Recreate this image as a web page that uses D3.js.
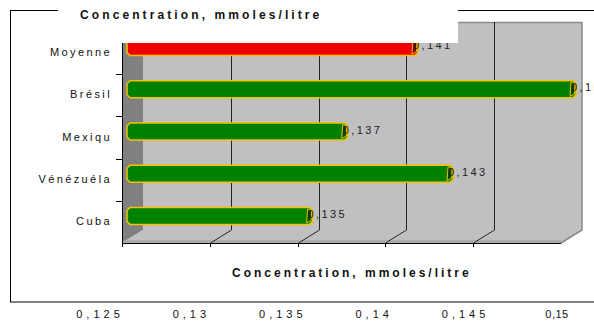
<!DOCTYPE html>
<html>
<head>
<meta charset="utf-8">
<script src="https://cdn.jsdelivr.net/npm/d3@7"></script>
<style>
  body { margin: 0; background: #fff; }
  svg { display: block; font-family: "Liberation Sans", Arial, sans-serif; }
</style>
</head>
<body>
<svg width="594" height="325"></svg>
<script>
let categories = ["Cuba", "Vénézuéla", "Mexiqu", "Brésil", "Moyenne"];
let values = [0.135, 0.143, 0.137, 0.15, 0.141];
let valueLabels = ["0,135", "0,143", "0,137", "0,15", "0,141"];
let xTicks = [0.125, 0.13, 0.135, 0.14, 0.145, 0.15];
let xTickLabels = ["0,125", "0,13", "0,135", "0,14", "0,145", "0,15"];
let title = "Concentration, mmoles/litre";

let svg = d3.select("svg");

// 3d box
let left = 122, bottom = 243, dx = 21, dy = -13, wallTop = 22;

let x = d3.scaleLinear().domain([0.125, 0.15]).range([left, 561]);
let y = d3.scaleBand().domain(categories).range([bottom, 32]);
let xLab = d3.scaleLinear().domain([0.125, 0.15]).range([100, 557]);

// outer frame
svg.append("rect")
  .attr("x", 10.5).attr("y", 10.5)
  .attr("width", 600).attr("height", 291.5)
  .attr("fill", "none").attr("stroke", "#000");

let right = x(0.15);

// back wall
svg.append("rect")
  .attr("x", left + dx).attr("y", wallTop)
  .attr("width", right - left).attr("height", bottom + dy - wallTop)
  .attr("fill", "#c0c0c0");

// left wall
svg.append("polygon")
  .attr("points", [[left, wallTop - dy], [left + dx, wallTop], [left + dx, bottom + dy], [left, bottom]].join(" "))
  .attr("fill", "#808080");

// floor
svg.append("polygon")
  .attr("points", [[left, bottom], [left + dx, bottom + dy], [right + dx, bottom + dy], [right, bottom]].join(" "))
  .attr("fill", "#c0c0c0");

svg.append("line")
  .attr("x1", left).attr("x2", right)
  .attr("y1", bottom - 1.5).attr("y2", bottom - 1.5)
  .attr("stroke", "#a2a2a2").attr("stroke-width", 2);

// wall edges
svg.append("path")
  .attr("d", `M${left + dx},${wallTop + 0.5}H${right + dx}V${bottom + dy}L${right},${bottom}`)
  .attr("fill", "none").attr("stroke", "#8a8a8a").attr("stroke-width", 1.5);

// grid on wall and floor
let inner = xTicks.slice(1, -1);
svg.append("g").selectAll("path")
  .data(inner)
  .enter().append("path")
    .attr("d", d => `M${Math.round(x(d)) + dx + 0.5},${wallTop}V${bottom + dy}L${Math.round(x(d)) + 0.5},${bottom}`)
    .attr("fill", "none")
    .attr("stroke", "#222")
    .attr("stroke-width", 1);

// axes lines
svg.append("line")
  .attr("x1", left + 0.5).attr("x2", left + 0.5)
  .attr("y1", wallTop - dy).attr("y2", bottom)
  .attr("stroke", "#000");
svg.append("line")
  .attr("x1", left).attr("x2", right)
  .attr("y1", bottom + 0.5).attr("y2", bottom + 0.5)
  .attr("stroke", "#000");

svg.append("g").selectAll("line")
  .data(categories)
  .enter().append("line")
    .attr("x1", left - 6).attr("x2", left)
    .attr("y1", d => Math.round(y(d)) + 0.5)
    .attr("y2", d => Math.round(y(d)) + 0.5)
    .attr("stroke", "#000");

svg.append("g").selectAll("line")
  .data(xTicks.slice(0, -1))
  .enter().append("line")
    .attr("x1", d => Math.round(x(d)) + 0.5)
    .attr("x2", d => Math.round(x(d)) + 0.5)
    .attr("y1", bottom).attr("y2", bottom + 4)
    .attr("stroke", "#000");

// bars
let bh = 17;
let barStart = left + 5;
let bars = categories.map((c, i) => {
  let cy = y(c) + y.bandwidth() / 2 - 6;
  return {
    name: c,
    label: valueLabels[i],
    t: cy - bh / 2,
    b: cy + bh / 2,
    cy: cy,
    xe: x(values[i]) + 12,
    fill: c === "Moyenne" ? "#f00000" : "#008000",
    cap: c === "Moyenne" ? "#7a0000" : "#004a00"
  };
});

let barPath = d => {
  let c = 3, x0 = barStart, x1 = d.xe;
  return `M${x0 + c},${d.t}H${x1}L${x1 + c},${d.t + c}V${d.b - c}L${x1},${d.b}H${x0 + c}L${x0},${d.b - c}V${d.t + c}Z`;
};

let bar = svg.append("g").selectAll("g")
  .data(bars)
  .enter().append("g");

bar.append("path")
  .attr("d", barPath)
  .attr("fill", d => d.fill)
  .attr("stroke", "#f2c200")
  .attr("stroke-width", 1.5);

bar.append("path")
  .attr("d", d => {
    let x1 = d.xe;
    return `M${x1 - 2},${d.t + 1.5}L${x1 + 2},${d.t + 3}L${x1 + 1.5},${d.b - 4}L${x1 - 3},${d.b - 1.5}Z`;
  })
  .attr("fill", d => d.cap)
  .attr("stroke", "#f2c200")
  .attr("stroke-width", 1);

bar.append("text")
  .attr("x", d => d.xe - 2)
  .attr("y", d => d.cy + 2)
  .attr("font-size", 11)
  .attr("letter-spacing", "2.4px")
  .attr("fill", "#222")
  .text(d => d.label);

// category labels
svg.append("g").selectAll("text")
  .data(categories)
  .enter().append("text")
    .attr("x", 112)
    .attr("y", d => y(d) + y.bandwidth() / 2 + 3)
    .attr("text-anchor", "end")
    .attr("font-size", 11)
    .attr("letter-spacing", "2.4px")
    .attr("fill", "#111")
    .text(d => d);

// title box on top
svg.append("rect")
  .attr("x", 58).attr("y", 0)
  .attr("width", 400).attr("height", 43)
  .attr("fill", "#fff");

svg.append("text")
  .attr("x", 80).attr("y", 19)
  .attr("font-size", 12).attr("font-weight", "bold")
  .attr("letter-spacing", "3.1px")
  .attr("fill", "#111")
  .text(title);

svg.append("text")
  .attr("x", 232).attr("y", 277)
  .attr("font-size", 12).attr("font-weight", "bold")
  .attr("letter-spacing", "3px")
  .attr("fill", "#111")
  .text(title);

// bottom tick labels
svg.append("g").selectAll("text")
  .data(xTicks)
  .enter().append("text")
    .attr("x", d => xLab(d))
    .attr("y", 318)
    .attr("text-anchor", "middle")
    .attr("font-size", 11)
    .attr("letter-spacing", (d, i) => i === xTicks.length - 1 ? "0.5px" : "4px")
    .attr("fill", "#111")
    .text((d, i) => xTickLabels[i]);
</script>
</body>
</html>
